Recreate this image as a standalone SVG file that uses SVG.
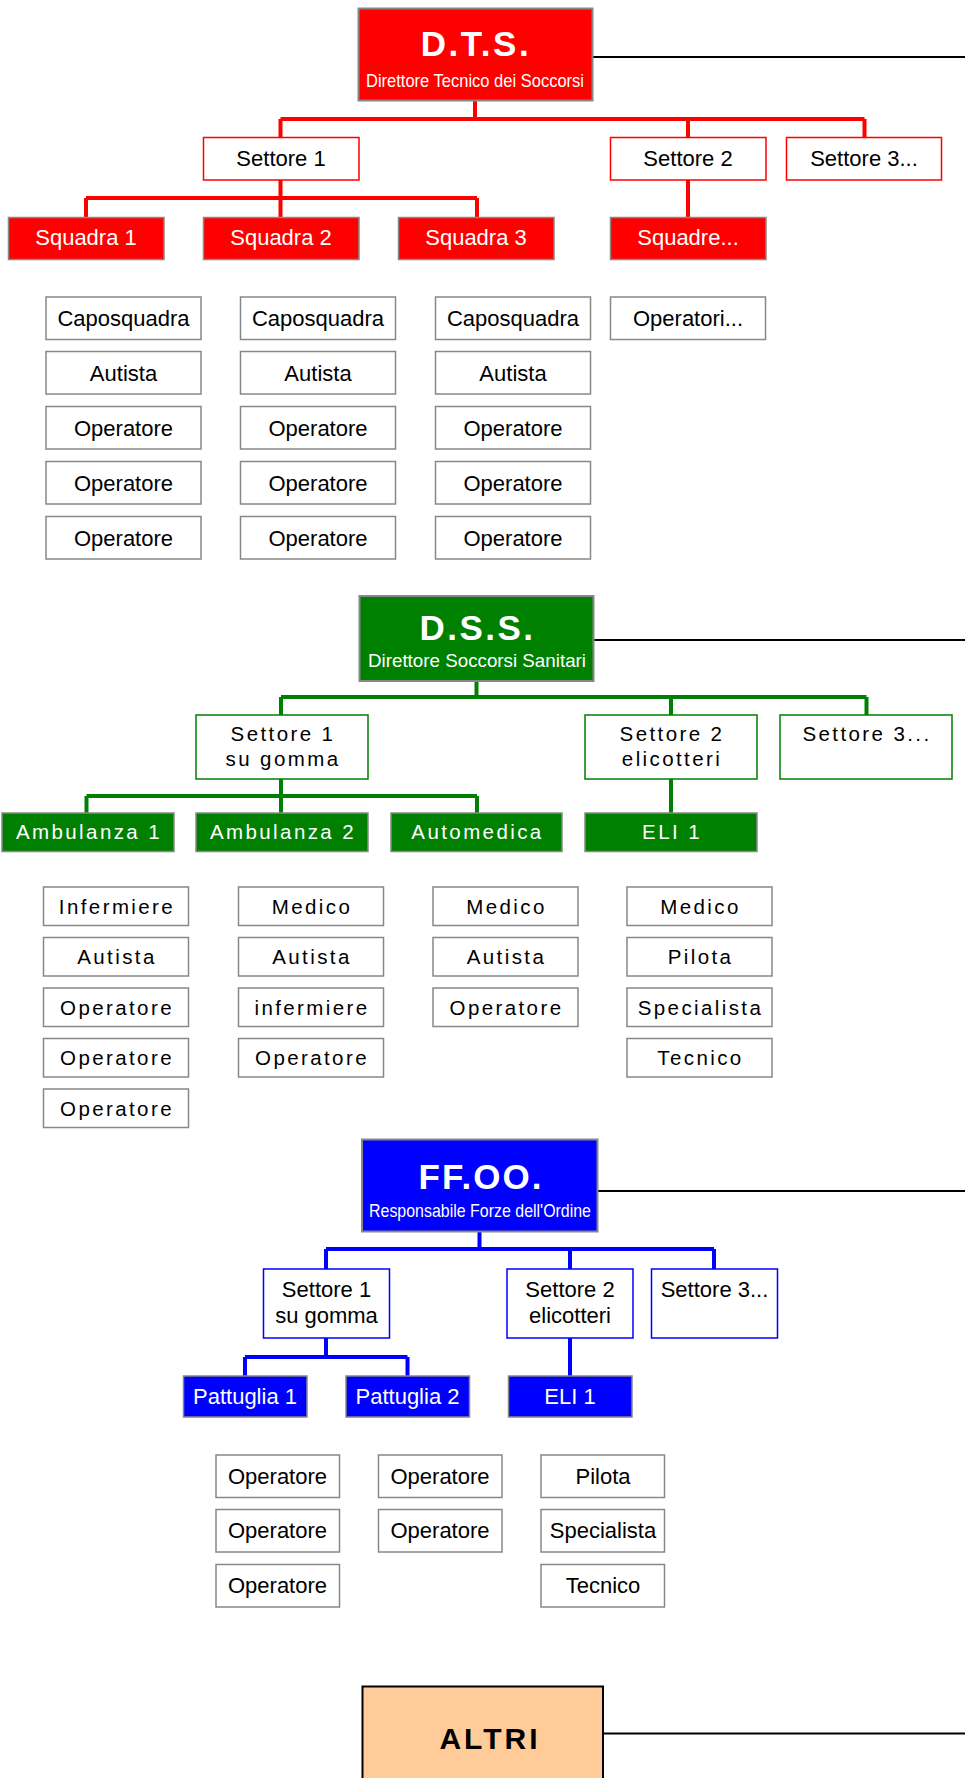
<svg xmlns="http://www.w3.org/2000/svg" width="965" height="1778" viewBox="0 0 965 1778">
<style>
text{font-family:"Liberation Sans",Arial,Helvetica,sans-serif;text-anchor:middle}
.head{stroke:#878787;stroke-width:2}
.title{font-weight:bold;font-size:35px;fill:#fff;letter-spacing:2.5px}
.sub{font-size:19px;fill:#fff}
.ext{stroke:#000;stroke-width:2;fill:none}
.cr{stroke:#FF0000;stroke-width:4;fill:none}
.cg{stroke:#008000;stroke-width:4;fill:none}
.cb{stroke:#0000FF;stroke-width:4;fill:none}
.sr{fill:#fff;stroke:#FF0000;stroke-width:1.5}
.sg{fill:#fff;stroke:#008000;stroke-width:1.5}
.sb{fill:#fff;stroke:#0000FF;stroke-width:1.5}
.ur{fill:#FF0000;stroke:#888;stroke-width:1.5}
.ug{fill:#008000;stroke:#888;stroke-width:1.5}
.ub{fill:#0000FF;stroke:#888;stroke-width:1.5}
.m{fill:#fff;stroke:#888;stroke-width:1.5}
.t22{font-size:22px;fill:#000}
.w22{font-size:22px;fill:#fff}
.t20{font-size:20.5px;fill:#000;letter-spacing:2.4px}
.w20{font-size:20.5px;fill:#fff;letter-spacing:2.4px}
</style>

<g id="connectors">
  <path class="ext" d="M592.5,57 H965 M593.5,640 H965 M597.5,1191 H965 M603.5,1733.5 H965"/>
  <path class="cr" d="M475,101 V119 M280.5,119 H864.5 M280.5,119 V137.5 M688,119 V137.5 M864.5,119 V137.5 M280.5,180 V198 M86,198 H477 M86,198 V217.5 M280.5,198 V217.5 M477,198 V217.5 M688,180 V217.5"/>
  <path class="cg" d="M476.5,681 V697 M281,697 H866.5 M281,697 V715 M671,697 V715 M866.5,697 V715 M281,779 V796 M86.5,796 H477 M86.5,796 V813 M281,796 V813 M477,796 V813 M671,779 V813"/>
  <path class="cb" d="M479.5,1232 V1249 M326,1249 H714 M326,1249 V1269 M570,1249 V1269 M714,1249 V1269 M326,1338 V1357 M245,1357 H407.5 M245,1357 V1376 M407.5,1357 V1376 M570,1338 V1376"/>
</g>

<!-- D.T.S. section -->
<g id="dts"><rect class="head" x="358.5" y="8.5" width="234" height="92" fill="#FF0000"/>
  <text class="title" x="476" y="56">D.T.S.</text>
  <text class="sub" x="475" y="86.5" textLength="218" lengthAdjust="spacingAndGlyphs">Direttore Tecnico dei Soccorsi</text></g>
<g id="dts-settore1"><rect class="sr" x="203.5" y="137.5" width="155.5" height="42.5"/><text class="t22" x="281" y="166">Settore 1</text></g>
<g id="dts-settore2"><rect class="sr" x="610.5" y="137.5" width="155.5" height="42.5"/><text class="t22" x="688" y="166">Settore 2</text></g>
<g id="dts-settore3"><rect class="sr" x="786.5" y="137.5" width="155" height="42.5"/><text class="t22" x="864" y="166">Settore 3...</text></g>
<g id="squadra1"><rect class="ur" x="8.5" y="217.5" width="155.5" height="42"/><text class="w22" x="86" y="245">Squadra 1</text></g>
<g id="squadra2"><rect class="ur" x="203.5" y="217.5" width="155.5" height="42"/><text class="w22" x="281" y="245">Squadra 2</text></g>
<g id="squadra3"><rect class="ur" x="398.5" y="217.5" width="155.5" height="42"/><text class="w22" x="476" y="245">Squadra 3</text></g>
<g id="squadre"><rect class="ur" x="610.5" y="217.5" width="155.5" height="42"/><text class="w22" x="688" y="245">Squadre...</text></g>

<g id="dts-members">
  <g id="s1-m1"><rect class="m" x="46" y="297" width="155" height="42.5"/><text class="t22" x="123.5" y="326">Caposquadra</text></g>
  <g id="s1-m2"><rect class="m" x="46" y="351.5" width="155" height="42.5"/><text class="t22" x="123.5" y="380.5">Autista</text></g>
  <g id="s1-m3"><rect class="m" x="46" y="406.5" width="155" height="42.5"/><text class="t22" x="123.5" y="435.5">Operatore</text></g>
  <g id="s1-m4"><rect class="m" x="46" y="461.5" width="155" height="42.5"/><text class="t22" x="123.5" y="490.5">Operatore</text></g>
  <g id="s1-m5"><rect class="m" x="46" y="516.5" width="155" height="42.5"/><text class="t22" x="123.5" y="545.5">Operatore</text></g>
  <g id="s2-m1"><rect class="m" x="240.5" y="297" width="155" height="42.5"/><text class="t22" x="318" y="326">Caposquadra</text></g>
  <g id="s2-m2"><rect class="m" x="240.5" y="351.5" width="155" height="42.5"/><text class="t22" x="318" y="380.5">Autista</text></g>
  <g id="s2-m3"><rect class="m" x="240.5" y="406.5" width="155" height="42.5"/><text class="t22" x="318" y="435.5">Operatore</text></g>
  <g id="s2-m4"><rect class="m" x="240.5" y="461.5" width="155" height="42.5"/><text class="t22" x="318" y="490.5">Operatore</text></g>
  <g id="s2-m5"><rect class="m" x="240.5" y="516.5" width="155" height="42.5"/><text class="t22" x="318" y="545.5">Operatore</text></g>
  <g id="s3-m1"><rect class="m" x="435.5" y="297" width="155" height="42.5"/><text class="t22" x="513" y="326">Caposquadra</text></g>
  <g id="s3-m2"><rect class="m" x="435.5" y="351.5" width="155" height="42.5"/><text class="t22" x="513" y="380.5">Autista</text></g>
  <g id="s3-m3"><rect class="m" x="435.5" y="406.5" width="155" height="42.5"/><text class="t22" x="513" y="435.5">Operatore</text></g>
  <g id="s3-m4"><rect class="m" x="435.5" y="461.5" width="155" height="42.5"/><text class="t22" x="513" y="490.5">Operatore</text></g>
  <g id="s3-m5"><rect class="m" x="435.5" y="516.5" width="155" height="42.5"/><text class="t22" x="513" y="545.5">Operatore</text></g>
  <g id="s4-m1"><rect class="m" x="610.5" y="297" width="155" height="42.5"/><text class="t22" x="688" y="326">Operatori...</text></g>
</g>

<!-- D.S.S. section -->
<g id="dss"><rect class="head" x="359.5" y="596" width="234" height="85" fill="#008000"/>
  <text class="title" x="477.5" y="640">D.S.S.</text>
  <text class="sub" x="477" y="667" textLength="218" lengthAdjust="spacingAndGlyphs">Direttore Soccorsi Sanitari</text></g>
<g id="dss-settore1"><rect class="sg" x="196" y="715" width="172" height="64"/><text class="t20" x="283" y="741">Settore 1</text><text class="t20" x="283" y="766">su gomma</text></g>
<g id="dss-settore2"><rect class="sg" x="585" y="715" width="172" height="64"/><text class="t20" x="672" y="741">Settore 2</text><text class="t20" x="672" y="766">elicotteri</text></g>
<g id="dss-settore3"><rect class="sg" x="780" y="715" width="172" height="64"/><text class="t20" x="867" y="741">Settore 3...</text></g>
<g id="ambulanza1"><rect class="ug" x="2" y="813" width="172" height="38.5"/><text class="w20" x="89" y="838.5">Ambulanza 1</text></g>
<g id="ambulanza2"><rect class="ug" x="196" y="813" width="172" height="38.5"/><text class="w20" x="283" y="838.5">Ambulanza 2</text></g>
<g id="automedica"><rect class="ug" x="391" y="813" width="171" height="38.5"/><text class="w20" x="477.5" y="838.5">Automedica</text></g>
<g id="dss-eli1"><rect class="ug" x="585" y="813" width="172" height="38.5"/><text class="w20" x="672" y="838.5">ELI 1</text></g>

<g id="dss-members">
  <g id="a1-m1"><rect class="m" x="43.5" y="887" width="145" height="38.5"/><text class="t20" x="117" y="913.5">Infermiere</text></g>
  <g id="a1-m2"><rect class="m" x="43.5" y="937.5" width="145" height="38.5"/><text class="t20" x="117" y="964">Autista</text></g>
  <g id="a1-m3"><rect class="m" x="43.5" y="988" width="145" height="38.5"/><text class="t20" x="117" y="1014.5">Operatore</text></g>
  <g id="a1-m4"><rect class="m" x="43.5" y="1038.5" width="145" height="38.5"/><text class="t20" x="117" y="1065">Operatore</text></g>
  <g id="a1-m5"><rect class="m" x="43.5" y="1089" width="145" height="38.5"/><text class="t20" x="117" y="1115.5">Operatore</text></g>
  <g id="a2-m1"><rect class="m" x="238.5" y="887" width="145" height="38.5"/><text class="t20" x="312" y="913.5">Medico</text></g>
  <g id="a2-m2"><rect class="m" x="238.5" y="937.5" width="145" height="38.5"/><text class="t20" x="312" y="964">Autista</text></g>
  <g id="a2-m3"><rect class="m" x="238.5" y="988" width="145" height="38.5"/><text class="t20" x="312" y="1014.5">infermiere</text></g>
  <g id="a2-m4"><rect class="m" x="238.5" y="1038.5" width="145" height="38.5"/><text class="t20" x="312" y="1065">Operatore</text></g>
  <g id="am-m1"><rect class="m" x="433" y="887" width="145" height="38.5"/><text class="t20" x="506.5" y="913.5">Medico</text></g>
  <g id="am-m2"><rect class="m" x="433" y="937.5" width="145" height="38.5"/><text class="t20" x="506.5" y="964">Autista</text></g>
  <g id="am-m3"><rect class="m" x="433" y="988" width="145" height="38.5"/><text class="t20" x="506.5" y="1014.5">Operatore</text></g>
  <g id="e1-m1"><rect class="m" x="627" y="887" width="145" height="38.5"/><text class="t20" x="700.5" y="913.5">Medico</text></g>
  <g id="e1-m2"><rect class="m" x="627" y="937.5" width="145" height="38.5"/><text class="t20" x="700.5" y="964">Pilota</text></g>
  <g id="e1-m3"><rect class="m" x="627" y="988" width="145" height="38.5"/><text class="t20" x="700.5" y="1014.5">Specialista</text></g>
  <g id="e1-m4"><rect class="m" x="627" y="1038.5" width="145" height="38.5"/><text class="t20" x="700.5" y="1065">Tecnico</text></g>
</g>

<!-- FF.OO. section -->
<g id="ffoo"><rect class="head" x="362" y="1139.5" width="235.5" height="92" fill="#0000FF"/>
  <text class="title" x="481" y="1188.5" style="letter-spacing:2px">FF.OO.</text>
  <text class="sub" x="480" y="1217" textLength="222" lengthAdjust="spacingAndGlyphs">Responsabile Forze dell'Ordine</text></g>
<g id="ffoo-settore1"><rect class="sb" x="263.5" y="1269" width="126" height="69"/><text class="t22" x="326.5" y="1296.5">Settore 1</text><text class="t22" x="326.5" y="1323">su gomma</text></g>
<g id="ffoo-settore2"><rect class="sb" x="507" y="1269" width="126" height="69"/><text class="t22" x="570" y="1296.5">Settore 2</text><text class="t22" x="570" y="1323">elicotteri</text></g>
<g id="ffoo-settore3"><rect class="sb" x="651.5" y="1269" width="126" height="69"/><text class="t22" x="714.5" y="1296.5">Settore 3...</text></g>
<g id="pattuglia1"><rect class="ub" x="183.5" y="1376" width="123.5" height="41"/><text class="w22" x="245" y="1403.5">Pattuglia 1</text></g>
<g id="pattuglia2"><rect class="ub" x="346" y="1376" width="123.5" height="41"/><text class="w22" x="407.5" y="1403.5">Pattuglia 2</text></g>
<g id="ffoo-eli1"><rect class="ub" x="508.5" y="1376" width="123.5" height="41"/><text class="w22" x="570" y="1403.5">ELI 1</text></g>

<g id="ffoo-members">
  <g id="p1-m1"><rect class="m" x="216" y="1455" width="123.5" height="42.5"/><text class="t22" x="277.5" y="1483.5">Operatore</text></g>
  <g id="p1-m2"><rect class="m" x="216" y="1509.5" width="123.5" height="42.5"/><text class="t22" x="277.5" y="1538">Operatore</text></g>
  <g id="p1-m3"><rect class="m" x="216" y="1564.5" width="123.5" height="42.5"/><text class="t22" x="277.5" y="1593">Operatore</text></g>
  <g id="p2-m1"><rect class="m" x="378.5" y="1455" width="123.5" height="42.5"/><text class="t22" x="440" y="1483.5">Operatore</text></g>
  <g id="p2-m2"><rect class="m" x="378.5" y="1509.5" width="123.5" height="42.5"/><text class="t22" x="440" y="1538">Operatore</text></g>
  <g id="fe-m1"><rect class="m" x="541" y="1455" width="123.5" height="42.5"/><text class="t22" x="603" y="1483.5">Pilota</text></g>
  <g id="fe-m2"><rect class="m" x="541" y="1509.5" width="123.5" height="42.5"/><text class="t22" x="603" y="1538">Specialista</text></g>
  <g id="fe-m3"><rect class="m" x="541" y="1564.5" width="123.5" height="42.5"/><text class="t22" x="603" y="1593">Tecnico</text></g>
</g>

<!-- ALTRI -->
<g id="altri"><rect x="362.5" y="1686.5" width="240.5" height="110" fill="#FFCC99" stroke="#000" stroke-width="2"/>
  <text x="490" y="1748.5" style="font-weight:bold;font-size:30px;fill:#000;letter-spacing:3px">ALTRI</text></g>
</svg>
